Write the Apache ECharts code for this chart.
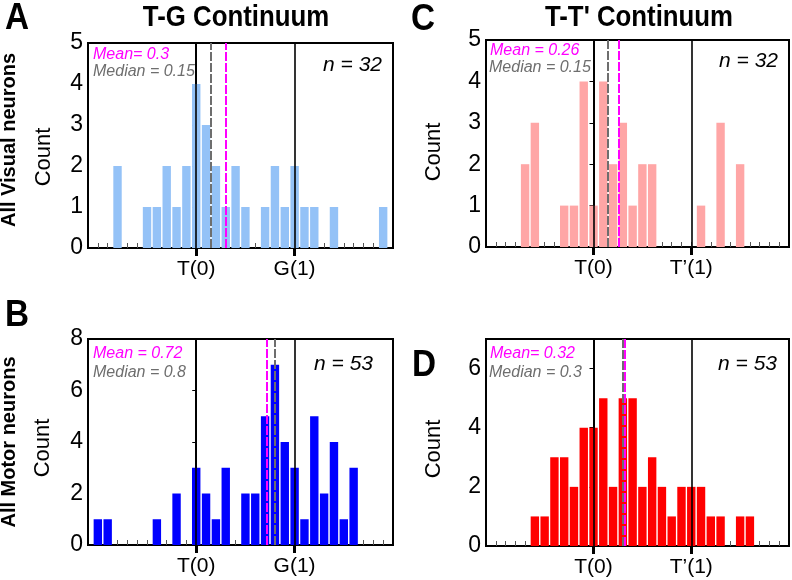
<!DOCTYPE html>
<html>
<head>
<meta charset="utf-8">
<script src="https://cdn.jsdelivr.net/npm/echarts@6/dist/echarts.min.js"></script>
<style>
  html, body { margin: 0; padding: 0; background: #fff; }
  #chart { width: 792px; height: 580px; }
</style>
</head>
<body>
<div id="chart"></div>
<script>
// bin centres (continuum position) and counts
const binsA = [-0.8, -0.5, -0.4, -0.3, -0.2, -0.1, 0, 0.1, 0.2, 0.3, 0.4, 0.5, 0.7, 0.8, 0.9, 1.0, 1.1, 1.2, 1.4, 1.9];
const countsA = [2, 1, 1, 2, 1, 2, 4, 3, 2, 1, 2, 1, 1, 2, 1, 2, 1, 1, 1, 1];

const binsB = [-1.0, -0.9, -0.4, -0.2, 0, 0.1, 0.2, 0.3, 0.5, 0.6, 0.7, 0.8, 0.9, 1.0, 1.1, 1.2, 1.3, 1.4, 1.5, 1.6];
const countsB = [1, 1, 1, 2, 3, 2, 1, 3, 2, 2, 5, 7, 4, 3, 1, 5, 2, 4, 1, 3];

const binsC = [-0.7, -0.6, -0.3, -0.2, -0.1, 0, 0.1, 0.2, 0.3, 0.4, 0.5, 0.6, 1.1, 1.3, 1.5];
const countsC = [2, 3, 1, 1, 4, 1, 4, 2, 3, 1, 2, 2, 1, 3, 2];

const binsD = [-0.6, -0.5, -0.4, -0.3, -0.2, -0.1, 0, 0.1, 0.2, 0.3, 0.4, 0.5, 0.6, 0.7, 0.8, 0.9, 1.0, 1.1, 1.2, 1.3, 1.5, 1.6];
const countsD = [1, 1, 3, 3, 2, 4, 4, 5, 2, 5, 5, 2, 3, 2, 1, 2, 2, 2, 1, 1, 1, 1];

// summary values
const meanA = 0.3, medianA = 0.15, nA = 32;
const meanB = 0.72, medianB = 0.8, nB = 53;
const meanC = 0.26, medianC = 0.15, nC = 32;
const meanD = 0.32, medianD = 0.3, nD = 53;

// tick labels
const yTicksA = [0, 1, 2, 3, 4, 5];
const yTicksB = [0, 2, 4, 6, 8];
const yTicksC = [0, 1, 2, 3, 4, 5];
const yTicksD = [0, 2, 4, 6];
const xLabelsTG = ['T(0)', 'G(1)'];
const xLabelsTT = ['T(0)', 'T\u2019(1)'];
const majorTicks = [0, 1];
const minorTicks = [];
for (let k = -10; k <= 19; k++) minorTicks.push(k / 10);

const FONT = "'Liberation Sans', Arial, Helvetica, sans-serif";
const chart = echarts.init(document.getElementById('chart'));

const panels = [
  { grid: { left: 88, top: 43, width: 305, height: 205 }, bins: binsA, counts: countsA, color: '#94c2f7',
    yMax: 5, yTicks: yTicksA, xLabels: xLabelsTG, mean: meanA, median: medianA },
  { grid: { left: 486, top: 40, width: 303, height: 207 }, bins: binsC, counts: countsC, color: '#ffa6a6',
    yMax: 5, yTicks: yTicksC, xLabels: xLabelsTT, mean: meanC, median: medianC },
  { grid: { left: 88, top: 339, width: 305, height: 206 }, bins: binsB, counts: countsB, color: '#0000ff',
    yMax: 8, yTicks: yTicksB, xLabels: xLabelsTG, mean: meanB, median: medianB },
  { grid: { left: 486, top: 339, width: 303, height: 207 }, bins: binsD, counts: countsD, color: '#ff0000',
    yMax: 7, yTicks: yTicksD, xLabels: xLabelsTT, mean: meanD, median: medianD }
];

const grids = [], xAxes = [], yAxes = [], series = [];
panels.forEach((p, i) => {
  grids.push(Object.assign({ show: true, borderColor: '#000', borderWidth: 2, backgroundColor: 'transparent' }, p.grid));
  // main axis: bars, major ticks and labels
  xAxes.push({
    gridIndex: i, type: 'value', position: 'bottom', min: -1.1, max: 2.0,
    axisLine: { show: true, onZero: false, lineStyle: { color: '#000', width: 2 } },
    axisTick: { show: true, customValues: majorTicks, length: 8, lineStyle: { color: '#000', width: 3 } },
    axisLabel: {
      customValues: majorTicks, fontSize: 21, color: '#000', fontFamily: FONT, margin: 11,
      formatter: v => (Math.abs(v) < 1e-9 ? p.xLabels[0] : p.xLabels[1])
    },
    splitLine: { show: false }
  });
  // minor ticks every 0.1
  xAxes.push({
    gridIndex: i, type: 'value', position: 'bottom', min: -1.1, max: 2.0,
    axisLine: { show: false },
    axisTick: { show: true, inside: true, customValues: minorTicks, length: 5, lineStyle: { color: '#555', width: 1 } },
    axisLabel: { show: false },
    splitLine: { show: false }
  });
  yAxes.push({
    gridIndex: i, type: 'value', min: 0, max: p.yMax,
    axisLine: { show: true, lineStyle: { color: '#000', width: 2 } },
    axisTick: { show: true, customValues: p.yTicks, length: 4, lineStyle: { color: '#000', width: 1 } },
    axisLabel: { customValues: p.yTicks, fontSize: 23, color: '#000', fontFamily: FONT, margin: 5 },
    splitLine: { show: false }
  });
  series.push({
    type: 'bar', xAxisIndex: i * 2, yAxisIndex: i,
    data: p.bins.map((b, k) => [b, p.counts[k]]),
    barWidth: 8.4,
    itemStyle: { color: p.color },
    emphasis: { disabled: true },
    markLine: {
      silent: true, symbol: 'none', label: { show: false }, animation: false,
      data: [
        { xAxis: 0, lineStyle: { color: '#000', width: 1.6, type: 'solid' } },
        { xAxis: 1, lineStyle: { color: '#000', width: 1.6, type: 'solid' } },
        { xAxis: p.median, lineStyle: { color: '#6e6e6e', width: 2, type: [9, 2] } },
        { xAxis: p.mean, lineStyle: { color: '#ff00ff', width: 2, type: [9, 2] } }
      ]
    }
  });
});

function txt(x, y, text, opt) {
  return {
    type: 'text', x: x, y: y, rotation: opt.rotation || 0, scaleX: opt.scaleX || 1, silent: true,
    style: {
      text: text, fill: opt.fill || '#000', fontFamily: FONT,
      fontSize: opt.size, fontWeight: opt.weight || 'normal', fontStyle: opt.style || 'normal',
      textAlign: opt.align || 'left', textVerticalAlign: 'middle'
    }
  };
}

const graphics = [
  txt(17, 19, 'A', { size: 37, weight: 'bold', align: 'center', scaleX: 0.9 }),
  txt(17, 316, 'B', { size: 37, weight: 'bold', align: 'center', scaleX: 0.9 }),
  txt(423, 20, 'C', { size: 37, weight: 'bold', align: 'center', scaleX: 0.9 }),
  txt(424, 366, 'D', { size: 37, weight: 'bold', align: 'center', scaleX: 0.9 }),
  txt(236, 18, 'T-G Continuum', { size: 30, weight: 'bold', align: 'center', scaleX: 0.86 }),
  txt(639, 18, 'T-T\' Continuum', { size: 30, weight: 'bold', align: 'center', scaleX: 0.86 }),
  txt(9, 140, 'All Visual neurons', { size: 20, weight: 'bold', align: 'center', rotation: Math.PI / 2 }),
  txt(9, 442, 'All Motor neurons', { size: 20, weight: 'bold', align: 'center', rotation: Math.PI / 2 }),
  txt(44, 157, 'Count', { size: 22, align: 'center', rotation: Math.PI / 2 }),
  txt(434, 152, 'Count', { size: 22, align: 'center', rotation: Math.PI / 2 }),
  txt(43, 448, 'Count', { size: 22, align: 'center', rotation: Math.PI / 2 }),
  txt(434, 449, 'Count', { size: 22, align: 'center', rotation: Math.PI / 2 }),

  txt(93, 55, 'Mean= ' + meanA, { size: 16, style: 'italic', fill: '#ff00ff' }),
  txt(93, 72, 'Median = ' + medianA, { size: 16, style: 'italic', fill: '#6e6e6e' }),
  txt(382, 65, 'n = ' + nA, { size: 21, style: 'italic', align: 'right' }),

  txt(490, 51, 'Mean = ' + meanC, { size: 16, style: 'italic', fill: '#ff00ff' }),
  txt(489, 68, 'Median = ' + medianC, { size: 16, style: 'italic', fill: '#6e6e6e' }),
  txt(778, 61, 'n = ' + nC, { size: 21, style: 'italic', align: 'right' }),

  txt(93, 354, 'Mean = ' + meanB, { size: 16, style: 'italic', fill: '#ff00ff' }),
  txt(93, 373, 'Median = ' + medianB, { size: 16, style: 'italic', fill: '#6e6e6e' }),
  txt(373, 364, 'n = ' + nB, { size: 21, style: 'italic', align: 'right' }),

  txt(490, 354, 'Mean= ' + meanD, { size: 16, style: 'italic', fill: '#ff00ff' }),
  txt(489, 373, 'Median = ' + medianD, { size: 16, style: 'italic', fill: '#6e6e6e' }),
  txt(777, 364, 'n = ' + nD, { size: 21, style: 'italic', align: 'right' })
];

chart.setOption({
  animation: false,
  backgroundColor: '#fff',
  grid: grids,
  xAxis: xAxes,
  yAxis: yAxes,
  series: series,
  graphic: { elements: graphics }
});
</script>
</body>
</html>
